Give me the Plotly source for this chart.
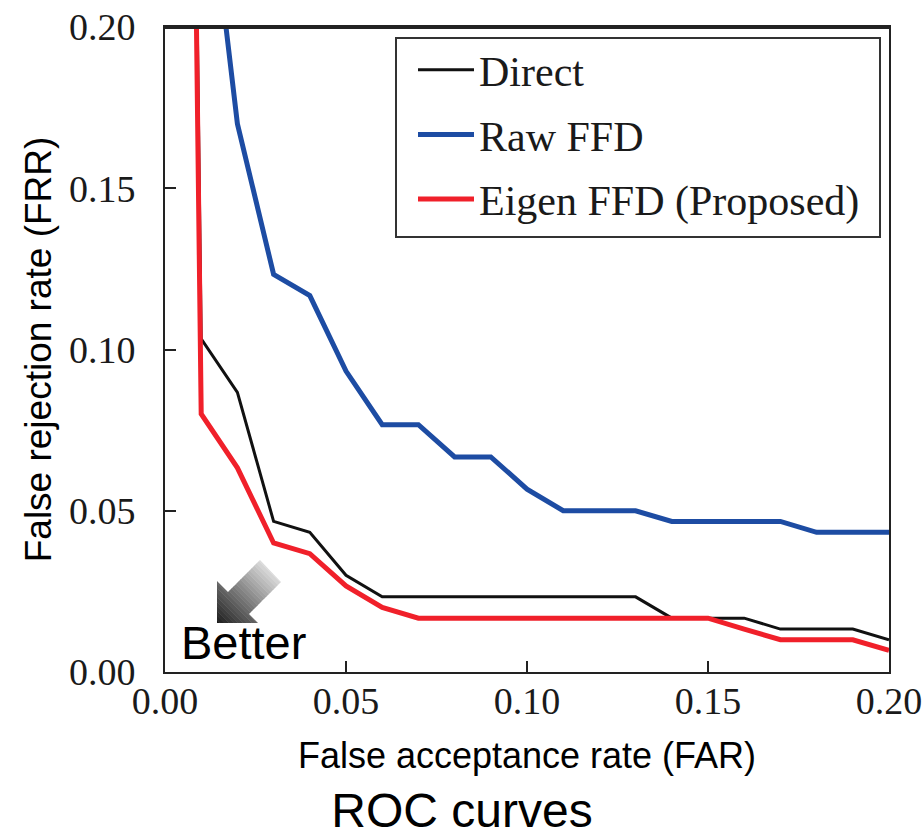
import plotly.graph_objects as go

# ---------------- data ----------------
far = [0.00, 0.01, 0.02, 0.03, 0.04, 0.05, 0.06, 0.07, 0.08, 0.09, 0.10,
       0.11, 0.12, 0.13, 0.14, 0.15, 0.16, 0.17, 0.18, 0.19, 0.20]

frr_direct = [1.000, 0.1033, 0.0867, 0.0467, 0.0433, 0.0300, 0.0233, 0.0233, 0.0233,
              0.0233, 0.0233, 0.0233, 0.0233, 0.0233, 0.0167, 0.0167, 0.0167,
              0.0133, 0.0133, 0.0133, 0.0100]
frr_raw = [1.000, 0.2650, 0.1700, 0.1233, 0.1167, 0.0933, 0.0767, 0.0767, 0.0667,
           0.0667, 0.0567, 0.0500, 0.0500, 0.0500, 0.0467, 0.0467, 0.0467,
           0.0467, 0.0433, 0.0433, 0.0433]
frr_eigen = [1.000, 0.0800, 0.0633, 0.0400, 0.0367, 0.0267, 0.0200, 0.0167, 0.0167,
             0.0167, 0.0167, 0.0167, 0.0167, 0.0167, 0.0167, 0.0167, 0.0133,
             0.0100, 0.0100, 0.0100, 0.0067]

series_names = ["Direct", "Raw FFD", "Eigen FFD (Proposed)"]
tick_vals = [0.00, 0.05, 0.10, 0.15, 0.20]
tick_text = ["0.00", "0.05", "0.10", "0.15", "0.20"]

# ---------------- layout constants (reference pixel frame) ----------------
W, H = 924, 836
PX0, PX1, PY0, PY1 = 165, 889, 27, 672   # plot area in pixels
PW, PH = PX1 - PX0, PY1 - PY0
L, T, R, B = PX0, PY0, W - PX1, H - PY1
XMAX, YMAX = 0.2, 0.2

SERIF = "Liberation Serif, Times New Roman, serif"
SANS = "Liberation Sans, Arial, sans-serif"

colors = ["#111111", "#1d4ca3", "#f0202a"]
widths = [3, 5, 5]


def px2data(px, py):
    return ((px - PX0) / PW * XMAX, (PY1 - py) / PH * YMAX)


def px2paper(px, py):
    return ((px - PX0) / PW, (PY1 - py) / PH)


fig = go.Figure()
for name, ys, c, w in zip(series_names, [frr_direct, frr_raw, frr_eigen], colors, widths):
    fig.add_trace(go.Scatter(x=far, y=ys, mode="lines", name=name,
                             legendgroup=name,
                             line=dict(color=c, width=w)))

# ---------------- "Better" arrow with gradient (decoration) ----------------
arrow_px = [(260, 560), (281, 582), (249, 614), (258, 623), (217, 623), (217, 581), (228, 592)]


def clip_halfplane(poly, f):
    out = []
    n = len(poly)
    for i in range(n):
        a, b = poly[i], poly[(i + 1) % n]
        fa, fb = f(a), f(b)
        if fa >= 0:
            out.append(a)
        if (fa >= 0) != (fb >= 0):
            t = fa / (fa - fb)
            out.append((a[0] + t * (b[0] - a[0]), a[1] + t * (b[1] - a[1])))
    return out


u_tip, u_tail = -408, -298
NB = 24
for i in range(NB):
    u0 = u_tip + (u_tail - u_tip) * i / NB
    u1 = u_tip + (u_tail - u_tip) * (i + 1) / NB + 0.6
    poly = clip_halfplane(arrow_px, lambda p, u0=u0: (p[0] - p[1]) - u0)
    poly = clip_halfplane(poly, lambda p, u1=u1: u1 - (p[0] - p[1]))
    if len(poly) < 3:
        continue
    t = (i + 0.5) / NB
    g = int(25 + t * (225 - 25))
    pts = [px2data(*p) for p in poly]
    path = "M " + " L ".join(f"{x:.6f},{y:.6f}" for x, y in pts) + " Z"
    fig.add_shape(type="path", path=path, xref="x", yref="y",
                  fillcolor=f"rgb({g},{g},{g})", line=dict(width=0), layer="above")

bx, by = px2data(243, 642)
fig.add_annotation(x=bx, y=by, xref="x", yref="y", text="Better", showarrow=False,
                   font=dict(family=SANS, size=47, color="black"),
                   xanchor="center", yanchor="middle")

# top frame edge (explicit, drawn just inside the plot top)
tx0, ty = px2paper(PX0, PY0 + 1)
fig.add_shape(type="line", xref="paper", yref="paper", x0=0, x1=1, y0=ty, y1=ty,
              line=dict(color="#222222", width=2), layer="above")

# legend frame
lx0, ly1 = px2paper(396, 38)
lx1, ly0 = px2paper(880, 237)
fig.add_shape(type="rect", xref="paper", yref="paper", x0=lx0, x1=lx1, y0=ly0, y1=ly1,
              line=dict(color="#333333", width=2), fillcolor="rgba(0,0,0,0)", layer="above")

axis_common = dict(
    showline=True, linecolor="#222222", linewidth=2, mirror=True,
    ticks="inside", ticklen=11, tickwidth=2, tickcolor="#222222",
    showgrid=False, zeroline=False, ticklabeloverflow="allow",
    tickvals=tick_vals, ticktext=tick_text,
    tickfont=dict(family=SERIF, size=38, color="#1a1a1a"),
)

lgx, lgy = px2paper(413, 36)

fig.update_layout(
    width=W, height=H, autosize=False,
    margin=dict(l=L, r=R, t=T, b=B, pad=0),
    paper_bgcolor="white", plot_bgcolor="white",
    title=dict(text="ROC curves", x=0.5, xref="container", xanchor="center",
               y=1 - 810 / H, yref="container", yanchor="middle",
               font=dict(family=SANS, size=48, color="black")),
    xaxis=dict(range=[0, XMAX], **axis_common, ticklabelstandoff=-6,
               title=dict(text="False acceptance rate (FAR)", standoff=22,
                          font=dict(family=SANS, size=36, color="black"))),
    yaxis=dict(range=[0, YMAX], **axis_common, ticklabelstandoff=20,
               title=dict(text="False rejection rate (FRR)", standoff=6,
                          font=dict(family=SANS, size=37, color="black"))),
    showlegend=True,
    legend=dict(x=lgx, y=lgy, xanchor="left", yanchor="top",
                xref="paper", yref="paper",
                bgcolor="rgba(0,0,0,0)", borderwidth=0,
                traceorder="grouped", tracegroupgap=7, itemwidth=56,
                font=dict(family=SERIF, size=42, color="#1a1a1a")),
)
fig.update_xaxes(automargin=False)
fig.update_yaxes(automargin=False)

fig.write_html("out.html", config={"displayModeBar": False},
               post_script="document.body.style.margin='0px';"
                           "document.documentElement.style.overflow='hidden';")
